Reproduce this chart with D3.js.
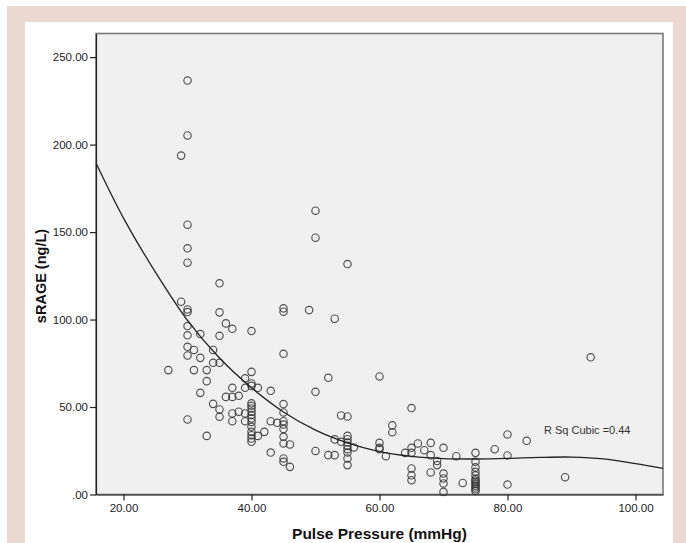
<!DOCTYPE html>
<html>
<head>
<meta charset="utf-8">
<script src="https://d3js.org/d3.v7.min.js"></script>
<style>
body { margin: 0; background: #fff; }
text { font-family: "Liberation Sans", Arial, sans-serif; }
</style>
</head>
<body>
<script>

var pulsePressure = [
  27,
  29, 29,
  30, 30, 30, 30, 30, 30, 30, 30, 30, 30, 30, 30,
  31, 31,
  32, 32, 32,
  33, 33, 33,
  34, 34, 34,
  35, 35, 35, 35, 35, 35,
  36, 36,
  37, 37, 37, 37, 37,
  38, 38,
  39, 39, 39, 39,
  40, 40, 40, 40, 40, 40, 40, 40, 40, 40, 40, 40, 40, 40, 40, 40,
  41, 41,
  42,
  43, 43, 43,
  44,
  45, 45, 45, 45, 45, 45, 45, 45, 45, 45, 45, 45,
  46, 46,
  49,
  50, 50, 50, 50,
  52, 52,
  53, 53, 53,
  54, 54,
  55, 55, 55, 55, 55, 55, 55, 55, 55, 55,
  56,
  60, 60, 60, 60,
  61,
  62, 62,
  64,
  65, 65, 65, 65, 65, 65,
  66, 67,
  68, 68, 68,
  69, 69,
  70, 70, 70, 70, 70,
  72, 73,
  75, 75, 75, 75, 75, 75, 75, 75, 75, 75, 75, 75, 75,
  78,
  80, 80, 80,
  83, 89, 93
];

var sRAGE = [
  71.1,
  193.7, 110.2,
  236.6, 205.2, 154.2, 140.7, 132.5, 105.8, 104.3, 96.3, 91.0, 84.4, 79.5, 42.9,
  82.6, 71.1,
  91.7, 78.1, 58.1,
  71.1, 64.8, 33.5,
  82.6, 75.3, 51.8,
  120.7, 104.1, 90.7, 75.3, 48.6, 44.4,
  97.8, 55.8,
  94.7, 61.0, 55.8, 46.3, 41.9,
  56.4, 47.3,
  66.4, 61.0, 46.3, 41.9,
  93.4, 70.1, 63.5, 62.1, 52.1, 50.7, 49.2, 47.3, 45.4, 43.5, 41.5, 38.7, 35.8, 33.9, 32.0, 30.1,
  61.0, 33.5,
  35.8,
  59.3, 41.9, 24.0,
  41.0,
  106.4, 104.5, 80.4, 51.7, 46.9, 41.9, 40.0, 37.4, 33.0, 29.2, 20.6, 18.7,
  28.6, 15.8,
  105.4,
  162.2, 146.8, 58.7, 24.9,
  66.7, 22.5,
  100.5, 31.5, 22.5,
  45.2, 30.1,
  131.7, 44.6, 33.5, 31.6, 29.7, 27.8, 25.9, 24.0, 20.6, 16.8,
  26.9,
  67.5, 29.5, 26.7, 25.9,
  21.9,
  39.5, 35.6,
  23.8,
  49.4, 26.7, 23.8, 14.9, 11.0, 8.2,
  29.2, 25.3,
  29.5, 22.5, 12.6,
  19.2, 16.8,
  26.7, 12.0, 9.2, 6.3, 1.5,
  21.9, 6.6,
  23.8, 18.7, 15.5, 13.0, 11.0, 9.0, 8.0, 7.0, 6.0, 5.0, 4.0, 3.0, 2.0,
  25.9,
  34.3, 22.3, 5.7,
  30.7, 9.9, 78.4
];

// cubic fit line
var fitX = [15.7, 20, 25, 30, 35, 40, 45, 50, 55, 60, 65, 70, 75, 80, 85, 90, 95, 100, 104.3];
var fitY = [189.5, 158, 127, 99.5, 78, 61, 47.2, 36.8, 29.5, 24.5, 21.8, 20.5, 20.3, 20.6, 21.2, 21.4, 20.4, 17.6, 14.9];

var xTicks = [20, 40, 60, 80, 100];
var yTicks = [0, 50, 100, 150, 200, 250];
var fitLabel = "R Sq Cubic =0.44";

var W = 686, H = 543;
var plot = {left: 96, right: 663, top: 33.5, bottom: 494.5};

var svg = d3.select("body").append("svg")
            .attr("width", W)
            .attr("height", H);

// frame around the chart
svg.append("rect").attr("x", 7).attr("y", 6).attr("width", W - 7).attr("height", H - 6)
   .attr("fill", "#ebd8d0");
svg.append("rect").attr("x", 25).attr("y", 22).attr("width", 648).attr("height", H - 22)
   .attr("fill", "#ffffff");

var x = d3.scaleLinear().domain([15.7, 104.3]).range([plot.left, plot.right]);
var y = d3.scaleLinear().domain([0, 263.5]).range([plot.bottom, plot.top]);

svg.append("rect")
   .attr("x", plot.left).attr("y", plot.top)
   .attr("width", plot.right - plot.left).attr("height", plot.bottom - plot.top)
   .attr("fill", "#f0f0f0")
   .attr("stroke", "#7a7a7a")
   .attr("stroke-width", 1.6);

function fmt(d) { return d === 0 ? ".00" : d.toFixed(2); }

var xAxis = d3.axisBottom(x).tickValues(xTicks).tickFormat(fmt).tickSizeInner(6).tickSizeOuter(0).tickPadding(3);
var yAxis = d3.axisLeft(y).tickValues(yTicks).tickFormat(fmt).tickSizeInner(6).tickSizeOuter(0).tickPadding(2);

var gx = svg.append("g")
   .attr("transform", "translate(0," + plot.bottom + ")")
   .call(xAxis);
var gy = svg.append("g")
   .attr("transform", "translate(" + plot.left + ",0)")
   .call(yAxis);

[gx, gy].forEach(function(g) {
  g.select(".domain").attr("stroke", "#222").attr("stroke-width", 1.2);
  g.selectAll(".tick line").attr("stroke", "#222").attr("stroke-width", 1.2);
  g.selectAll(".tick text").attr("fill", "#222").style("font-size", "11.5px")
   .style("font-family", "'Liberation Sans', Arial, sans-serif");
});

// points
var pts = pulsePressure.map(function(d, i) { return {x: d, y: sRAGE[i]}; });
svg.append("g").selectAll("circle")
   .data(pts).enter()
   .append("circle")
   .attr("cx", function(d) { return x(d.x); })
   .attr("cy", function(d) { return y(d.y); })
   .attr("r", 3.7)
   .attr("fill", "none")
   .attr("stroke", "#333")
   .attr("stroke-opacity", 0.85)
   .attr("stroke-width", 1.15);

// fit line
var line = d3.line()
   .x(function(d, i) { return x(fitX[i]); })
   .y(function(d) { return y(d); })
   .curve(d3.curveCatmullRom.alpha(0.5));

svg.append("path")
   .datum(fitY)
   .attr("d", line)
   .attr("fill", "none")
   .attr("stroke", "#222")
   .attr("stroke-width", 1.3);

svg.append("text")
   .attr("x", x(85.7)).attr("y", y(34.5))
   .attr("fill", "#333")
   .style("font-size", "11px")
   .text(fitLabel);

// axis titles
svg.append("text")
   .attr("x", (plot.left + plot.right) / 2).attr("y", 539)
   .attr("text-anchor", "middle")
   .style("font-size", "15.5px").style("font-weight", "bold")
   .attr("fill", "#111")
   .text("Pulse Pressure (mmHg)");

svg.append("text")
   .attr("transform", "translate(46,276) rotate(-90)")
   .attr("text-anchor", "middle")
   .style("font-size", "14.5px").style("font-weight", "bold")
   .attr("fill", "#111")
   .text("sRAGE (ng/L)");

</script>
</body>
</html>
